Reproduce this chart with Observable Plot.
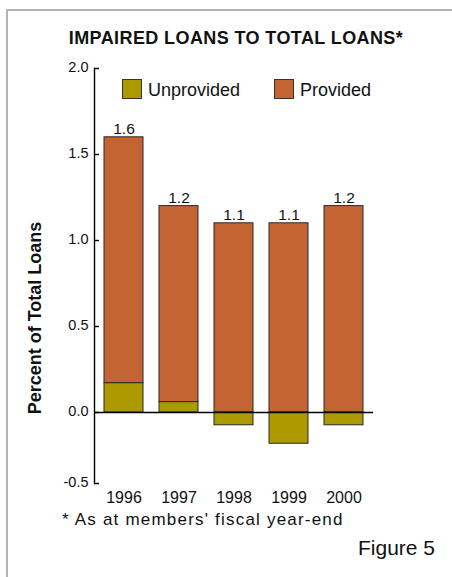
<!DOCTYPE html>
<html>
<head>
<meta charset="utf-8">
<script src="https://cdn.jsdelivr.net/npm/d3@7"></script>
<script src="https://cdn.jsdelivr.net/npm/@observablehq/plot@0.6"></script>
<style>
  body { margin: 0; background: #fff; }
  #wrap {
    position: relative; width: 452px; height: 577px; overflow: hidden;
    background: #fff; font-family: "Liberation Sans", Arial, sans-serif; color: #111;
  }
  #border {
    position: absolute; left: 6px; top: 9px; width: 444px; height: 566px;
    border-top: 2px solid #b4b4b4; border-left: 2px solid #b4b4b4;
  }
  #title {
    position: absolute; left: 30px; width: 412px; top: 28px; text-align: center;
    font-weight: bold; font-size: 18px; letter-spacing: 0.4px; white-space: nowrap;
  }
  #chart { position: absolute; left: 0; top: 40px; }
  #ylabel {
    position: absolute; left: 35px; top: 318px; font-weight: bold; font-size: 18px;
    white-space: nowrap; transform: translate(-50%, -50%) rotate(-90deg);
  }
  .legend-item { position: absolute; top: 76px; display: flex; align-items: center; font-size: 18px; }
  .legend-item span { padding-top: 4px; }
  .swatch { width: 18px; height: 18px; border: 1px solid #333; margin-right: 6px; }
  #note { position: absolute; left: 62px; top: 510px; font-size: 17px; letter-spacing: 1.2px; white-space: nowrap; }
  #fig { position: absolute; left: 358px; top: 536px; font-size: 21px; white-space: nowrap; }
</style>
</head>
<body>
<div id="wrap">
  <div id="border"></div>
  <div id="title">IMPAIRED LOANS TO TOTAL LOANS*</div>
  <div id="chart"></div>
  <div id="legend"></div>
  <div id="ylabel">Percent of Total Loans</div>
  <div id="note">* As at members' fiscal year-end</div>
  <div id="fig">Figure 5</div>
</div>
<script>
// Impaired loans as a percent of total loans, by fiscal year
const years = ["1996", "1997", "1998", "1999", "2000"];
const totalImpaired = [1.6, 1.2, 1.1, 1.1, 1.2];       // labelled bar tops
const unprovidedShare = [0.17, 0.06, -0.09, -0.22, -0.09];
const yTicks = [-0.5, 0, 0.5, 1.0, 1.5, 2.0];
const seriesNames = ["Unprovided", "Provided"];
const seriesColors = ["#ad9a00", "#c46432"];

const rows = years.map((year, i) => ({
  year,
  total: totalImpaired[i],
  unprovided: unprovidedShare[i]
}));

// the axis below zero is drawn more compressed than above it
const belowZero = 142 / 172;
const squeeze = v => (v < 0 ? v * belowZero : v);

const barStroke = "#2e2626";
const plotWidth = 452, marginLeft = 94, marginRight = 79;
const innerWidth = plotWidth - marginLeft - marginRight;
const tickLength = 5;

const chart = Plot.plot({
  width: plotWidth,
  height: 490,
  marginLeft,
  marginRight,
  marginTop: 28,
  marginBottom: 47,
  style: { fontFamily: "'Liberation Sans', Arial, sans-serif", color: "#111", background: "transparent" },
  x: { domain: years, paddingInner: 0.283, paddingOuter: 0.14 },
  y: { transform: squeeze, domain: [squeeze(-0.5), 2] },
  marks: [
    // provided portion sits on top of any positive unprovided portion
    Plot.barY(rows, {
      x: "year",
      y1: d => Math.max(0, d.unprovided),
      y2: "total",
      fill: seriesColors[1],
      stroke: barStroke,
      strokeWidth: 1
    }),
    Plot.barY(rows, {
      x: "year",
      y1: 0,
      y2: "unprovided",
      fill: seriesColors[0],
      stroke: barStroke,
      strokeWidth: 1
    }),
    Plot.ruleY([0], { stroke: "#000", strokeWidth: 1.4 }),
    Plot.text(rows, {
      x: "year",
      y: "total",
      text: d => d.total.toFixed(1),
      lineAnchor: "bottom",
      dy: -3,
      fontSize: 15.5,
      fill: "#111"
    }),
    // vertical axis line along the left edge of the plot area
    Plot.frame({ anchor: "left", stroke: "#000", strokeWidth: 1.4 }),
    // short ticks pointing inward from the axis line
    Plot.tickY(yTicks, {
      y: d => d,
      insetRight: innerWidth - tickLength,
      stroke: "#000",
      strokeWidth: 1.4
    }),
    Plot.axisY(yTicks, {
      tickSize: 0,
      tickPadding: 6,
      dy: -1.5,
      tickFormat: d => d.toFixed(1),
      label: null,
      fontSize: 14.5
    }),
    Plot.axisX({ tickSize: 0, tickPadding: 8, label: null, fontSize: 16 })
  ]
});
document.getElementById("chart").appendChild(chart);

// legend: swatch + name for each series
const legend = document.getElementById("legend");
const legendLeft = [122, 274];
seriesNames.forEach((name, i) => {
  const item = document.createElement("div");
  item.className = "legend-item";
  item.style.left = legendLeft[i] + "px";
  const sw = document.createElement("div");
  sw.className = "swatch";
  sw.style.background = seriesColors[i];
  item.appendChild(sw);
  const label = document.createElement("span");
  label.textContent = name;
  item.appendChild(label);
  legend.appendChild(item);
});
</script>
</body>
</html>
